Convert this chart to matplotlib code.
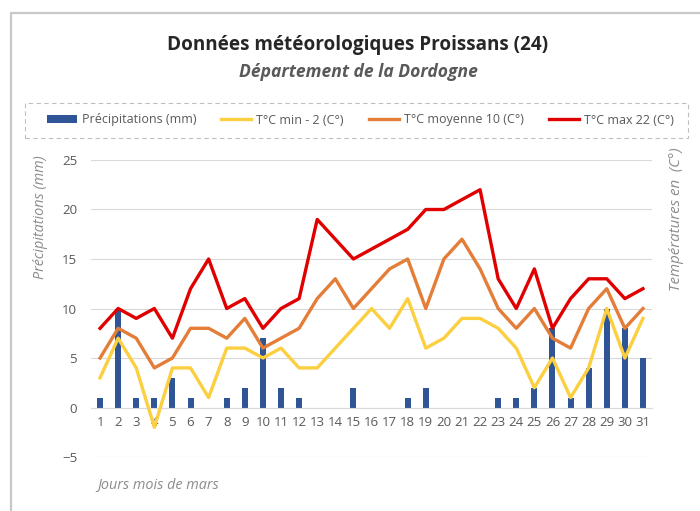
import matplotlib
matplotlib.use("Agg")
import matplotlib.pyplot as plt
from matplotlib.patches import Rectangle
import numpy as np

days = list(range(1, 32))
precip = [1, 10, 1, 1, 3, 1, 0, 1, 2, 7, 2, 1, 0, 0, 2, 0, 0, 1, 2, 0, 0, 0, 1, 1, 2, 8, 1, 4, 10, 8, 5]
tmin = [3, 7, 4, -2, 4, 4, 1, 6, 6, 5, 6, 4, 4, 6, 8, 10, 8, 11, 6, 7, 9, 9, 8, 6, 2, 5, 1, 4, 10, 5, 9]
tmoy = [5, 8, 7, 4, 5, 8, 8, 7, 9, 6, 7, 8, 11, 13, 10, 12, 14, 15, 10, 15, 17, 14, 10, 8, 10, 7, 6, 10, 12, 8, 10]
tmax = [8, 10, 9, 10, 7, 12, 15, 10, 11, 8, 10, 11, 19, 17, 15, 16, 17, 18, 20, 20, 21, 22, 13, 10, 14, 8, 11, 13, 13, 11, 12]
yticks = [-5, 0, 5, 10, 15, 20, 25]

labels = ["Précipitations (mm)", "T°C min - 2 (C°)", "T°C moyenne 10 (C°)", "T°C max 22 (C°)"]
title = "Données météorologiques Proissans (24)"
subtitle = "Département de la Dordogne"

plt.rcParams['font.family'] = ['Open Sans', 'DejaVu Sans']
gray = "#595959"
lgray = "#8c8c8c"

fig = plt.figure(figsize=(7.0, 5.11), dpi=100)
fig.patches.append(Rectangle((11/700, -0.1), 1.0, (511-13)/511 + 0.1, transform=fig.transFigure,
                             fill=False, edgecolor="#c8c8c8", lw=1.6, zorder=0))
# dashed legend box
fig.patches.append(Rectangle((25/700, 1 - 138/511), (688-25)/700, 35/511, transform=fig.transFigure,
                             fill=False, edgecolor="#bfbfbf", lw=0.8, linestyle=(0, (4, 3)), zorder=0))

ax = fig.add_axes([91/700, (511-457)/511, (652-91)/700, (457-160)/511])
b = ax.bar(days, precip, width=0.33, color="#2F5597", label=labels[0], zorder=2)
l1, = ax.plot(days, tmin, color="#FBCF3F", lw=2.4, label=labels[1], zorder=3)
l2, = ax.plot(days, tmoy, color="#E47D38", lw=2.4, label=labels[2], zorder=3)
l3, = ax.plot(days, tmax, color="#E00000", lw=2.4, label=labels[3], zorder=3)

ax.set_xlim(0.5, 31.5)
ax.set_ylim(-5, 25)
ax.set_yticks(yticks)
ax.set_xticks(days)
ax.grid(axis='y', color="#d9d9d9", lw=0.8, zorder=0)
ax.set_axisbelow(True)
for s in ['left', 'right', 'top']:
    ax.spines[s].set_visible(False)
ax.spines['bottom'].set_position(('data', 0))
ax.spines['bottom'].set_color("#d9d9d9")
ax.spines['bottom'].set_linewidth(0.8)
ax.tick_params(axis='both', length=0, labelcolor=gray, labelsize=9.5)
ax.tick_params(axis='y', pad=10)
ax.tick_params(axis='x', pad=6)

fig.text(358/700, 1 - 45/511, title, ha='center', va='center', fontsize=13.6,
         fontweight='bold', color="#262626")
fig.text(358/700, 1 - 72/511, subtitle, ha='center', va='center', fontsize=12.6,
         fontstyle='italic', fontweight='bold', color=gray)

leg = fig.legend(handles=[b, l1, l2, l3], labels=labels, loc='center',
                 bbox_to_anchor=(360/700, 1 - 120/511), ncol=4, frameon=False,
                 fontsize=9, handlelength=2.4, handletextpad=0.4, columnspacing=2.0)
for t in leg.get_texts():
    t.set_color(gray)

fig.text(40/700, 1 - 217/511, "Précipitations (mm)", rotation=90, ha='center', va='center',
         fontsize=10.4, fontstyle='italic', color=lgray)
fig.text(676/700, 1 - 219/511, "Températures en  (C°)", rotation=90, ha='center', va='center',
         fontsize=10.8, fontstyle='italic', color=lgray)
fig.text(97/700, 1 - 485/511, "Jours mois de mars", ha='left', va='center',
         fontsize=10.4, fontstyle='italic', color=lgray)

fig.savefig("out.png", dpi=100)
